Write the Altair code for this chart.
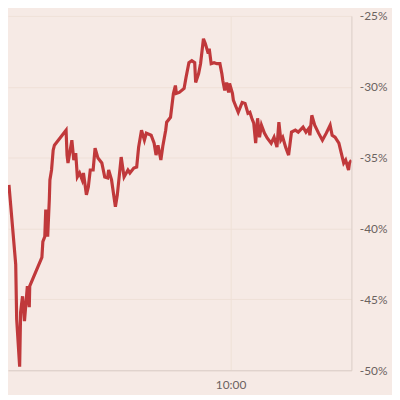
import altair as alt
import pandas as pd

# minutes after 09:30
minutes = [0.13, 1.04, 1.17, 1.57, 1.70, 1.96, 2.22, 2.61, 2.87, 2.93, 4.57, 4.70, 4.96, 5.09, 5.35,
           5.57, 5.65, 5.87, 6.09, 6.26, 7.83, 7.96, 8.09, 8.61, 8.87, 9.13, 9.35, 9.65, 10.00, 10.17,
           10.57, 10.83, 11.09, 11.48, 11.74, 12.13, 12.65, 13.04, 13.43, 13.57, 13.96, 14.48, 14.74,
           15.26, 15.65, 16.17, 16.43, 16.96, 17.35, 17.61, 18.00, 18.39, 18.65, 19.30, 19.70, 19.96,
           20.22, 20.61, 20.87, 21.26, 21.39, 21.91, 22.30, 22.57, 22.70, 23.09, 23.74, 24.00, 24.39,
           24.78, 25.17, 25.30, 25.70, 25.96, 26.35, 26.61, 27.00, 27.13, 27.39, 27.78, 28.17, 28.57,
           28.83, 28.96, 29.22, 29.48, 29.74, 29.87, 30.26, 30.39, 31.04, 31.57, 31.96, 32.35, 32.61,
           32.87, 33.13, 33.39, 33.65, 33.91, 34.17, 34.57, 34.96, 35.48, 35.87, 36.26, 36.52, 36.78,
           37.04, 37.43, 37.83, 38.22, 38.74, 39.13, 39.78, 40.17, 40.57, 40.70, 40.96, 41.35, 41.87,
           42.39, 42.91, 43.43, 43.70, 44.09, 44.61, 45.00, 45.26, 45.52, 45.91, 46.04, 46.30]

change = [-36.92, -42.53, -46.39, -49.75, -45.90, -44.78, -46.53, -44.07, -45.55, -44.07, -42.04,
          -40.92, -40.57, -38.67, -40.57, -37.97, -36.57, -35.87, -34.47, -34.12, -33.06, -34.82,
          -35.38, -33.77, -35.17, -34.68, -36.36, -36.08, -36.57, -36.08, -37.62, -37.06, -35.87,
          -35.87, -34.33, -35.03, -35.38, -36.36, -36.43, -35.87, -36.57, -38.46, -37.62, -34.96,
          -36.36, -35.87, -36.08, -35.73, -35.66, -34.26, -33.06, -33.77, -33.27, -33.42, -33.98,
          -34.82, -34.12, -35.17, -34.19, -33.06, -32.50, -32.15, -30.47, -29.91, -30.47, -30.40,
          -30.12, -29.35, -28.30, -28.16, -28.30, -29.70, -29.07, -28.37, -26.61, -26.96, -27.66,
          -27.31, -28.37, -28.30, -28.37, -28.37, -29.07, -29.56, -30.26, -29.70, -30.40, -29.77,
          -30.47, -30.96, -31.80, -31.10, -31.17, -31.87, -31.80, -32.22, -32.57, -33.98, -32.22,
          -33.56, -32.71, -33.27, -33.63, -33.98, -33.56, -34.26, -32.50, -33.77, -33.56, -34.26,
          -34.82, -33.20, -33.06, -33.20, -32.85, -33.20, -32.92, -33.42, -32.01, -32.71, -33.27,
          -33.77, -33.27, -32.71, -33.42, -33.56, -33.98, -34.82, -35.38, -35.17, -35.87, -35.38,
          -35.17]

y_ticks = [-50, -45, -40, -35, -30, -25]
x_ticks = [30]
x_tick_labels = ["10:00"]

df = pd.DataFrame({"t": minutes, "v": change})

BG = "#f6eae5"
GRID = "#efe1d8"
DOMAIN = "#dacdc6"
LABEL = "#6b625f"
FONT = "Lato"

chart = alt.Chart(df).mark_line(color="#c0393b", strokeWidth=3.2, clip=True).encode(
    x=alt.X("t:Q", scale=alt.Scale(domain=[0, 46.3], nice=False, zero=False),
            axis=alt.Axis(values=x_ticks, labelExpr="'" + x_tick_labels[0] + "'", title=None,
                          ticks=False, labelPadding=9, grid=True, gridColor=GRID,
                          domainColor=DOMAIN, labelColor=LABEL, labelFont=FONT, labelFontSize=12)),
    y=alt.Y("v:Q", scale=alt.Scale(domain=[-50, -25], nice=False, zero=False),
            axis=alt.Axis(orient="right", values=y_ticks,
                          labelExpr="'-' + abs(datum.value) + '%'", title=None,
                          ticks=False, labelPadding=8, grid=True, gridColor=GRID,
                          domainColor=DOMAIN, labelColor=LABEL, labelFont=FONT, labelFontSize=12)),
).properties(
    width=347, height=358, background=BG,
    padding={"left": 0, "top": 0, "right": 5, "bottom": 3},
).configure_view(stroke=None)

chart.save("out.html", embed_options={"renderer": "svg", "actions": False})
